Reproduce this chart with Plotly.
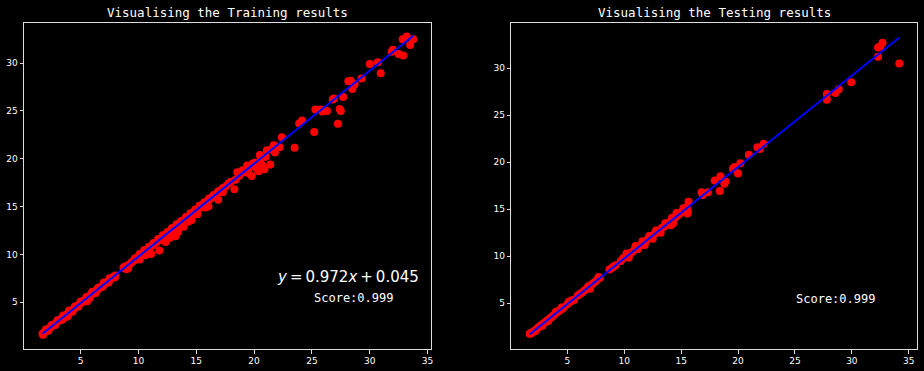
import plotly.graph_objects as go

# ---------------- data ----------------
train_x = [
    1.7, 1.75, 1.8, 1.9, 2.0, 2.15, 2.3, 2.45, 2.6, 2.75, 2.9, 3.05, 3.2, 3.35, 3.5, 3.65, 3.8, 3.95,
    4.1, 4.25, 4.4, 4.55, 4.7, 4.85, 5.0, 5.15, 5.3, 5.45, 5.6, 5.75, 5.9, 6.05, 6.2, 6.35, 6.5,
    6.65, 6.8, 6.95, 7.1, 7.25, 7.4, 7.55, 7.7, 7.85, 8.0,
    2.0, 2.5, 3.0, 3.5, 4.0, 4.5, 5.0, 5.5, 6.0, 6.5, 7.0, 7.5,
    2.2, 2.8, 3.4, 3.75, 3.9, 4.3, 4.8, 5.4, 5.55, 5.8, 6.3, 6.9, 7.4, 7.95,
    8.7, 8.8, 8.95, 9.1, 9.0, 9.2,
    9.4, 9.6, 9.8, 10.0, 10.2, 10.4, 10.6, 10.8, 11.0, 11.2, 11.4, 11.6, 11.8, 12.0, 12.2, 12.4,
    12.6, 12.8, 13.0, 13.2, 13.4, 13.6, 13.8, 14.0, 14.2, 14.4, 14.6, 14.8, 15.0, 15.2, 15.4, 15.6,
    15.8, 16.0, 16.2, 16.4, 16.6, 16.8, 17.0, 17.2, 17.4, 17.6,
    9.7, 10.1, 10.5, 10.9, 11.3, 11.7, 12.1, 12.5, 12.9, 13.3, 13.7, 14.1, 14.5, 14.9, 15.3, 15.7,
    16.1, 16.5, 16.9, 17.3,
    10.1, 10.3, 10.6, 11.0, 11.1, 11.8, 12.35, 12.7, 13.0, 13.4, 13.2, 13.9, 14.3, 14.6, 15.1,
    15.75, 16.05, 16.9, 17.3,
    17.8, 18.0, 18.3, 18.4, 18.55, 18.7, 19.0, 19.2, 19.4, 19.5, 19.6, 19.8, 19.9, 20.1, 20.2,
    20.4, 20.5, 20.6, 20.7, 20.9, 21.0, 21.1, 21.4, 21.5, 21.7, 21.8, 22.2, 22.4,
    23.5, 23.9, 24.15, 25.2, 25.3, 25.75, 25.9, 26.3, 26.8, 26.9, 27.25, 27.4, 27.5, 27.7,
    28.15, 28.35, 28.5, 28.7, 29.3, 30.0, 30.7, 30.95, 31.9, 32.0, 32.5, 32.9, 32.85, 33.2,
    33.5, 33.76,
]
train_y = [
    1.70, 1.60, 1.78, 1.90, 1.98, 2.13, 2.30, 2.40, 2.58, 2.70, 2.86, 3.02, 3.12, 3.30, 3.45, 3.55,
    3.72, 3.88, 4.05, 4.15, 4.32, 4.45, 4.62, 4.72, 4.90, 5.05, 5.18, 5.30, 5.48, 5.62, 5.78, 5.90,
    6.08, 6.22, 6.35, 6.50, 6.65, 6.78, 6.92, 7.08, 7.22, 7.35, 7.52, 7.65, 7.78,
    2.15, 2.62, 3.10, 3.60, 4.12, 4.55, 5.08, 5.55, 6.10, 6.50, 7.05, 7.50,
    2.00, 2.60, 3.15, 3.45, 3.55, 4.00, 4.55, 5.10, 5.10, 5.45, 5.95, 6.60, 7.05, 7.60,
    8.60, 8.70, 8.45, 8.55, 8.80, 8.90,
    9.15, 9.35, 9.55, 9.75, 9.95, 10.15, 10.35, 10.52, 10.72, 10.92, 11.10, 11.30, 11.50, 11.68,
    11.90, 12.08, 12.28, 12.46, 12.68, 12.86, 13.05, 13.25, 13.45, 13.62, 13.85, 14.02, 14.22,
    14.42, 14.62, 14.80, 15.00, 15.20, 15.40, 15.60, 15.78, 15.98, 16.18, 16.36, 16.56, 16.75,
    16.95, 17.15,
    9.60, 10.05, 10.45, 10.80, 11.20, 11.60, 12.00, 12.35, 12.75, 13.15, 13.50, 13.90, 14.30,
    14.70, 15.10, 15.45, 15.85, 16.20, 16.60, 16.95,
    9.45, 9.90, 9.90, 10.20, 10.05, 10.40, 11.30, 11.70, 12.20, 12.30, 11.90, 12.90, 13.40, 13.60,
    14.20, 14.90, 15.00, 15.70, 16.50,
    17.45, 17.60, 16.80, 17.80, 18.60, 18.20, 18.80, 18.60, 19.30, 18.50, 19.10, 18.20, 19.50,
    19.60, 19.00, 18.70, 20.40, 20.00, 19.30, 18.90, 20.20, 20.90, 19.40, 21.00, 21.40, 20.65,
    21.20, 22.25,
    21.15, 23.70, 24.00, 22.80, 25.15, 25.15, 24.95, 25.00, 26.20, 26.30, 23.65, 25.20, 25.00,
    26.45, 28.10, 28.15, 27.30, 27.80, 28.40, 29.90, 30.10, 28.95, 31.20, 31.40, 30.95, 30.80,
    32.50, 32.80, 31.90, 32.50,
]
train_line_x = [1.7, 33.76]
train_line_y = [1.70, 32.86]

test_x = [
    1.7, 1.75, 1.85, 2.0, 2.15, 2.2, 2.3, 2.45, 2.6, 2.75, 2.8, 2.9, 3.05, 3.2, 3.3, 3.35, 3.5,
    3.65, 3.8, 3.95, 4.0, 4.1, 4.25, 4.4, 4.5, 4.55, 4.7, 5.0, 5.15, 5.3, 5.45, 5.6, 5.9, 6.1,
    6.3, 6.5, 6.7, 6.8, 6.9, 7.0, 7.1, 7.3, 7.5, 7.7, 7.75, 7.85,
    8.7, 8.9, 9.1, 9.25,
    9.7, 9.9, 10.1, 10.3, 10.5, 10.7, 10.9, 11.1, 11.3, 11.5, 11.7, 11.9, 12.1, 12.3, 12.5, 12.7,
    12.9, 13.1, 13.3, 13.5, 13.7, 13.9, 14.1, 14.3, 14.5, 14.7, 14.9, 15.1, 15.3, 15.5, 15.65,
    10.2, 11.0, 11.6, 12.2, 12.8, 13.6, 14.2, 14.6, 15.2,
    10.4, 11.2, 11.8, 12.5, 13.2, 14.1, 14.3, 15.55, 15.6,
    16.8, 16.9, 17.35, 17.95, 18.4, 18.45, 18.8, 18.9, 19.55, 19.7, 20.0, 20.2, 20.95, 21.7, 21.9,
    22.25,
    27.8, 27.8, 28.55, 28.85, 29.95, 32.3, 32.3, 32.5, 32.7, 34.17,
]
test_y = [
    1.75, 1.80, 1.85, 1.98, 2.12, 2.05, 2.25, 2.42, 2.55, 2.70, 2.60, 2.85, 2.98, 3.15, 3.10, 3.28,
    3.42, 3.58, 3.72, 3.88, 4.10, 4.05, 4.18, 4.32, 4.55, 4.45, 4.58, 4.90, 5.20, 5.18, 5.35, 5.35,
    5.80, 5.98, 6.15, 6.35, 6.55, 6.70, 6.85, 6.55, 6.95, 7.15, 7.35, 7.60, 7.80, 7.70,
    8.60, 8.75, 8.95, 9.05,
    9.50, 9.80, 9.95, 10.10, 10.30, 10.45, 10.70, 10.85, 11.05, 11.20, 11.45, 11.60, 11.85, 12.00,
    12.20, 12.40, 12.60, 12.75, 13.00, 13.15, 13.35, 13.55, 13.75, 13.95, 14.15, 14.35, 14.55,
    14.75, 15.00, 15.20, 15.80,
    10.30, 11.10, 11.60, 12.15, 12.75, 13.50, 14.10, 14.60, 15.10,
    9.85, 10.75, 11.20, 11.85, 12.50, 13.30, 13.50, 14.55, 14.75,
    16.80, 16.50, 16.80, 18.05, 16.95, 18.50, 17.70, 17.95, 19.30, 19.50, 18.80, 19.90, 20.80,
    21.60, 21.40, 21.95,
    27.25, 26.65, 27.35, 27.75, 28.50, 31.20, 32.20, 32.30, 32.70, 30.50,
]
test_line_x = [1.7, 34.17]
test_line_y = [1.70, 33.26]

equation_text = "<i>y</i>\u2009=\u20090.972<i>x</i>\u2009+\u20090.045"
score_text = "Score:0.999"
titles = ["Visualising the Training results", "Visualising the Testing results"]
x_ticks = [5, 10, 15, 20, 25, 30, 35]
y_ticks = [5, 10, 15, 20, 25, 30]

# ---------------- figure ----------------
W, H = 924, 371
fig = go.Figure()

marker = dict(color="#ff0000", size=8, line=dict(width=0))
fig.add_trace(go.Scatter(x=train_x, y=train_y, mode="markers", marker=marker,
                         xaxis="x", yaxis="y", showlegend=False))
fig.add_trace(go.Scatter(x=train_line_x, y=train_line_y, mode="lines",
                         line=dict(color="#0000ff", width=2), xaxis="x", yaxis="y", showlegend=False))
fig.add_trace(go.Scatter(x=test_x, y=test_y, mode="markers", marker=marker,
                         xaxis="x2", yaxis="y2", showlegend=False))
fig.add_trace(go.Scatter(x=test_line_x, y=test_line_y, mode="lines",
                         line=dict(color="#0000ff", width=2), xaxis="x2", yaxis="y2", showlegend=False))

def px_x(p):
    return p / W

def px_y(p):
    return 1 - p / H

axis_common = dict(
    showgrid=False, zeroline=False, showline=True, linecolor="#dddddd", linewidth=1,
    mirror=True, ticks="outside", tickcolor="#dddddd", ticklen=3.5, tickwidth=0.8,
    automargin=False,
    tickfont=dict(family="DejaVu Sans", size=9, color="#ffffff"),
)

fig.update_layout(
    width=W, height=H, autosize=False,
    margin=dict(l=0, r=0, t=0, b=0, pad=0),
    paper_bgcolor="#000000", plot_bgcolor="#000000",
    xaxis=dict(domain=[px_x(24), px_x(431)], range=[0.1, 35.3], tickvals=x_ticks,
               anchor="y", **axis_common),
    yaxis=dict(domain=[px_y(349), px_y(23)], range=[0.1, 34.2], tickvals=y_ticks,
               anchor="x", **axis_common),
    xaxis2=dict(domain=[px_x(511.3), px_x(917.3)], range=[0.08, 35.75], tickvals=x_ticks,
                anchor="y2", **axis_common),
    yaxis2=dict(domain=[px_y(349), px_y(23)], range=[0.14, 34.8], tickvals=y_ticks,
                anchor="x2", **axis_common),
)

mono = "DejaVu Sans Mono"
annots = [
    dict(x=px_x(227.5), y=px_y(12.5), text=titles[0], font=dict(family=mono, size=12.5, color="#ffffff")),
    dict(x=px_x(714.3), y=px_y(12.5), text=titles[1], font=dict(family=mono, size=12.5, color="#ffffff")),
    dict(x=px_x(348), y=px_y(277), text=equation_text, font=dict(family="DejaVu Sans", size=15, color="#ffffff")),
    dict(x=px_x(353), y=px_y(298), text=score_text, font=dict(family=mono, size=12, color="#ffffff")),
    dict(x=px_x(835), y=px_y(299), text=score_text, font=dict(family=mono, size=12, color="#ffffff")),
]
for a in annots:
    fig.add_annotation(xref="paper", yref="paper", showarrow=False,
                       xanchor="center", yanchor="middle", **a)

fig.write_html(
    "out.html",
    config={"displayModeBar": False},
    post_script="document.body.style.margin='0';document.body.style.background='#000';",
)
